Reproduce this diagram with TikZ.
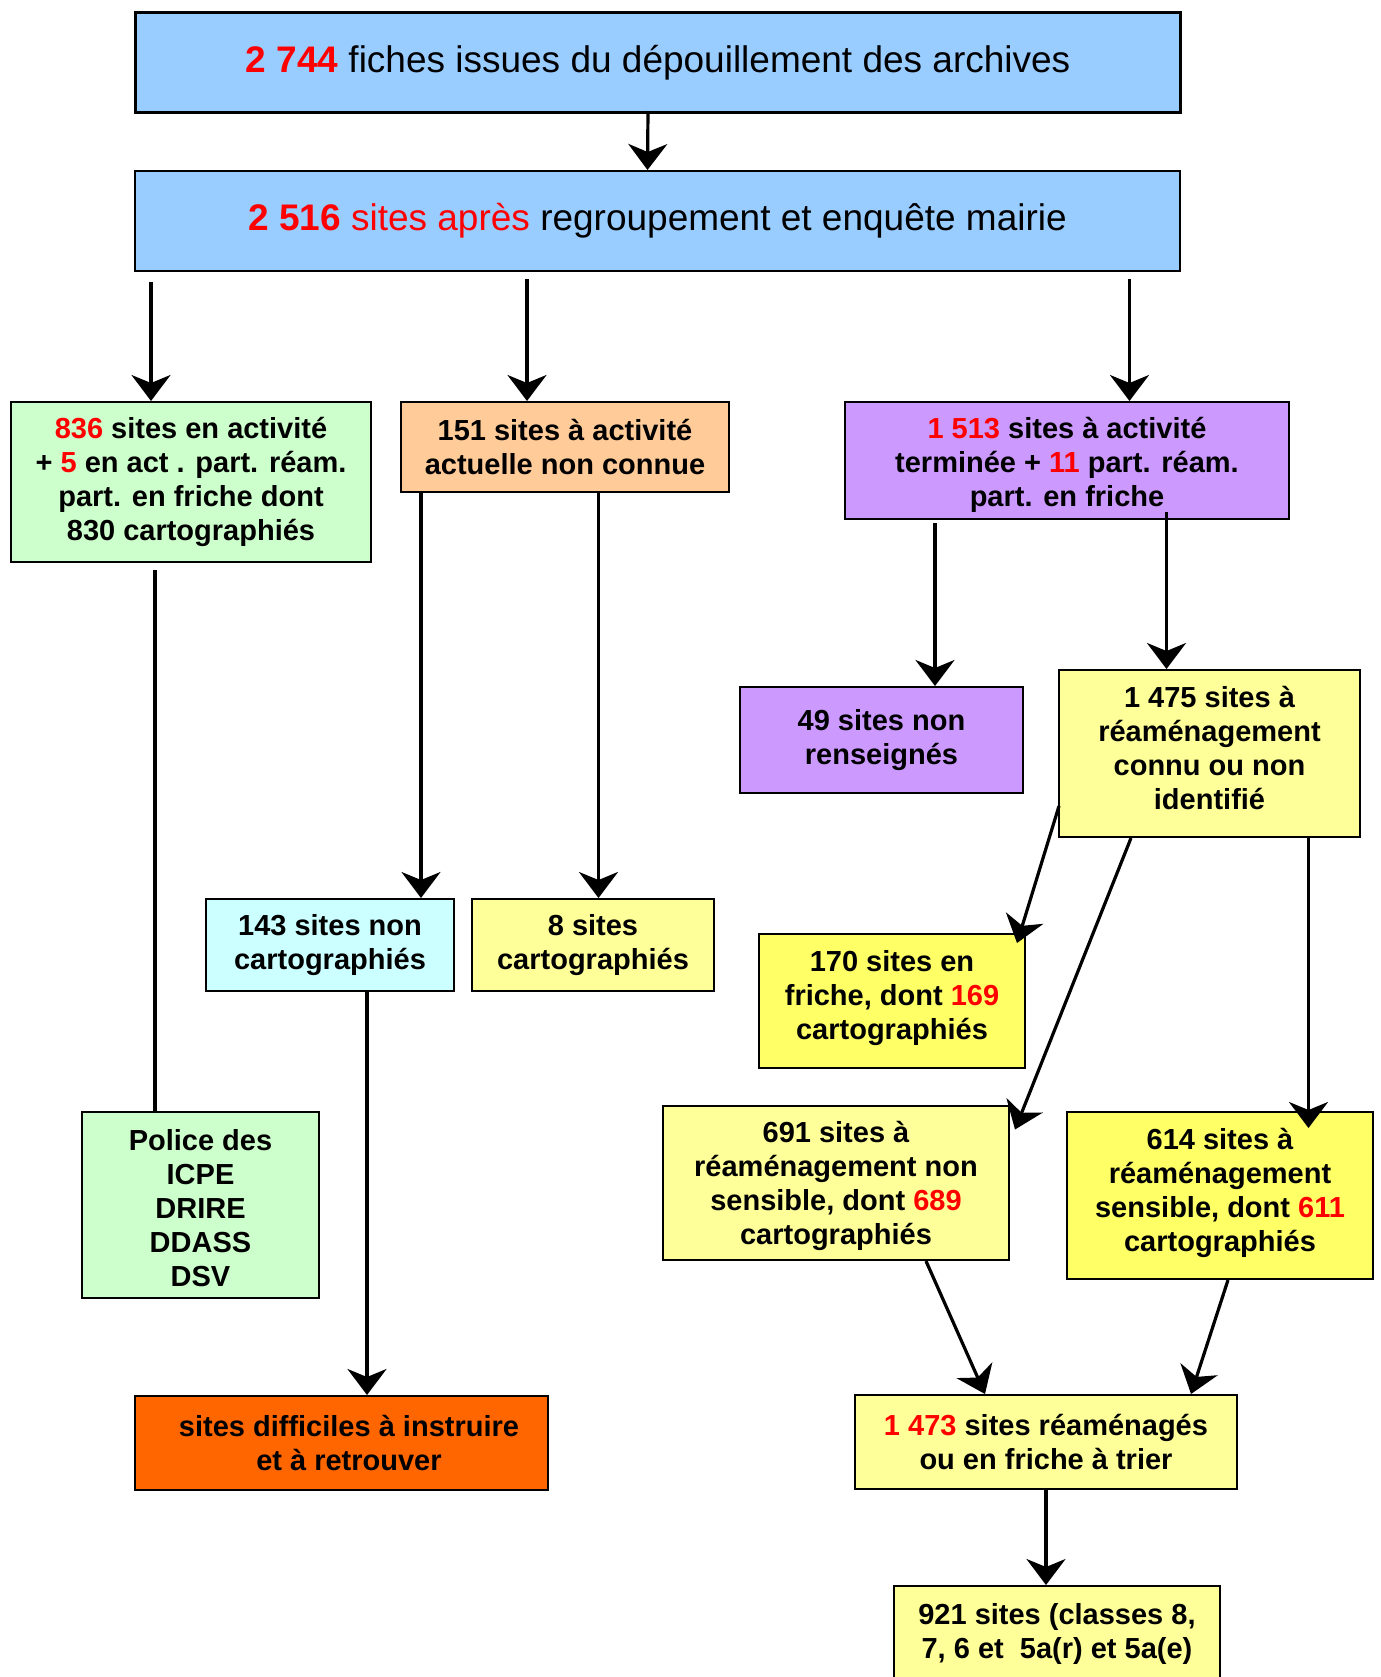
\documentclass[tikz,border=0pt]{standalone}
\usepackage{fontspec}
\setmainfont{Liberation Sans}
\usetikzlibrary{arrows.meta,calc}
\definecolor{sitesred}{HTML}{FF0000}
\definecolor{headblue}{HTML}{99CCFF}
\definecolor{activegreen}{HTML}{CCFFCC}
\definecolor{unknownorange}{HTML}{FFCC99}
\definecolor{endedpurple}{HTML}{CC99FF}
\definecolor{unmappedcyan}{HTML}{CCFFFF}
\definecolor{paleyellow}{HTML}{FFFF99}
\definecolor{brightyellow}{HTML}{FFFF66}
\definecolor{hardorange}{HTML}{FF6600}
\newcommand{\SitesChartPx}{0.5pt}
\newcommand{\SitesRed}[1]{\textcolor{sitesred}{#1}}
\tikzset{
	sitebox/.style={draw=black, line width=1pt, anchor=north west, align=center, inner sep=2pt, font=\bfseries\fontsize{14.5}{17}\selectfont},
	headbox/.style={sitebox, fill=headblue, font=\fontsize{18.5}{22}\selectfont, minimum width=1045*\SitesChartPx, minimum height=100*\SitesChartPx},
	flow/.style={line width=1.6pt, -{Stealth[length=13pt, width=19.5pt, inset=4pt]}},
	link/.style={line width=1.6pt},
}

\begin{document}
\begin{tikzpicture}[x=\SitesChartPx, y=\SitesChartPx]
		\useasboundingbox (0,0) rectangle (1381,-1677);
		\clip (0,0) rectangle (1381,-1677);
		\node[headbox, line width=1.5pt] (r1) at (134,-11) {\SitesRed{\textbf{2 744}} fiches issues du dépouillement des archives};
		\node[headbox] (r2) at (134,-170) {\SitesRed{\textbf{2 516} sites après} regroupement et enquête mairie};
		\node[sitebox, fill=activegreen, minimum width=360*\SitesChartPx, minimum height=160*\SitesChartPx] (a1) at (10,-401) {\SitesRed{836} sites en activité\\+ \SitesRed{5} en act . part. réam.\\part. en friche dont\\830 cartographiés};
		\node[sitebox, fill=unknownorange, minimum width=328*\SitesChartPx, minimum height=90*\SitesChartPx] (a2) at (400,-401) {151 sites à activité\\actuelle non connue};
		\node[sitebox, fill=endedpurple, minimum width=444*\SitesChartPx, minimum height=117*\SitesChartPx] (a3) at (844,-401) {\rule{0pt}{14.5pt}\SitesRed{1 513} sites à activité\\terminée + \SitesRed{11} part. réam.\\part. en friche};
		\node[sitebox, fill=endedpurple, minimum width=283*\SitesChartPx, minimum height=106*\SitesChartPx] (b1) at (739,-686) {49 sites non\\renseignés};
		\node[sitebox, fill=paleyellow, minimum width=301*\SitesChartPx, minimum height=167*\SitesChartPx] (b2) at (1058,-669) {1 475 sites à\\réaménagement\\connu ou non\\identifié\rule[-6pt]{0pt}{6pt}};
		\node[sitebox, fill=unmappedcyan, minimum width=248*\SitesChartPx, minimum height=92*\SitesChartPx] (c1) at (205,-898) {143 sites non\\cartographiés};
		\node[sitebox, fill=paleyellow, minimum width=242*\SitesChartPx, minimum height=92*\SitesChartPx] (c2) at (471,-898) {8 sites\\cartographiés};
		\node[sitebox, fill=brightyellow, minimum width=266*\SitesChartPx, minimum height=134*\SitesChartPx] (c3) at (758,-933) {170 sites en\\friche, dont \SitesRed{169}\\cartographiés\rule[-6pt]{0pt}{6pt}};
		\node[sitebox, fill=activegreen, minimum width=237*\SitesChartPx, minimum height=186*\SitesChartPx] (d1) at (81,-1111) {\rule{0pt}{13.6pt}Police des\\ICPE\\DRIRE\\DDASS\\DSV};
		\node[sitebox, fill=paleyellow, minimum width=346*\SitesChartPx, minimum height=154*\SitesChartPx] (d2) at (662,-1105) {\rule{0pt}{13.6pt}691 sites à\\réaménagement non\\sensible, dont \SitesRed{689}\\cartographiés};
		\node[sitebox, fill=brightyellow, minimum width=306*\SitesChartPx, minimum height=167*\SitesChartPx] (d3) at (1066,-1111) {614 sites à\\réaménagement\\sensible, dont \SitesRed{611}\\cartographiés\rule[-6pt]{0pt}{6pt}};
		\node[sitebox, fill=hardorange, minimum width=413*\SitesChartPx, minimum height=94*\SitesChartPx] (e1) at (134,-1395) {\hspace*{7.5pt}sites difficiles à instruire\\\hspace*{7.5pt}et à retrouver};
		\node[sitebox, fill=paleyellow, minimum width=382*\SitesChartPx, minimum height=94*\SitesChartPx] (e2) at (854,-1394) {\SitesRed{1 473} sites réaménagés\\ou en friche à trier};
		\node[sitebox, fill=paleyellow, minimum width=326*\SitesChartPx, inner ysep=8.5pt, text depth=60pt] (e3) at (893,-1585) {921 sites (classes 8,\\7, 6 et\ \ 5a(r) et 5a(e)};
		\draw[flow] ($(r1.south)+(-10,3)$) -- ($(r2.north)+(-10,0)$);
		\draw[flow] ($(r2.south west)+(17,-10)$) coordinate (p1) -- (p1 |- a1.north);
		\draw[flow] ($(r2.south west)+(393,-7)$) coordinate (p2) -- (p2 |- a2.north);
		\draw[flow] ($(r2.south east)+(-51.5,-7)$) coordinate (p3) -- (p3 |- a3.north);
		\draw[link] ($(a1.south west)+(145,-7)$) coordinate (q1) -- (q1 |- d1.north);
		\draw[flow] ($(a2.south west)+(21,0)$) coordinate (q2) -- (q2 |- c1.north);
		\draw[flow] ($(a2.south west)+(198.5,0)$) coordinate (q3) -- (q3 |- c2.north);
		\draw[flow] ($(a3.south west)+(91,-3)$) coordinate (q4) -- (q4 |- b1.north);
		\draw[flow] ($(a3.south west)+(322.5,8)$) coordinate (q5) -- (q5 |- b2.north);
		\draw[flow] ($(b2.south west)+(1,32)$) -- ($(c3.north east)+(-9,-10)$);
		\draw[flow] ($(b2.south west)+(73,0)$) -- ($(d2.north east)+(5,-24.5)$);
		\draw[flow] ($(b2.south west)+(250.5,0)$) coordinate (q6) -- ($(q6 |- d3.north)+(0,-17)$);
		\draw[flow] ($(c1.south west)+(162,0)$) coordinate (q7) -- (q7 |- e1.north);
		\draw[flow] ($(d2.south west)+(264,0)$) -- ($(e2.north west)+(131,0)$);
		\draw[flow] ($(d3.south west)+(162,0)$) -- ($(e2.north west)+(337,0)$);
		\draw[flow] (e2.south) -- (e2.south |- e3.north);
	\end{tikzpicture}
\end{document}
